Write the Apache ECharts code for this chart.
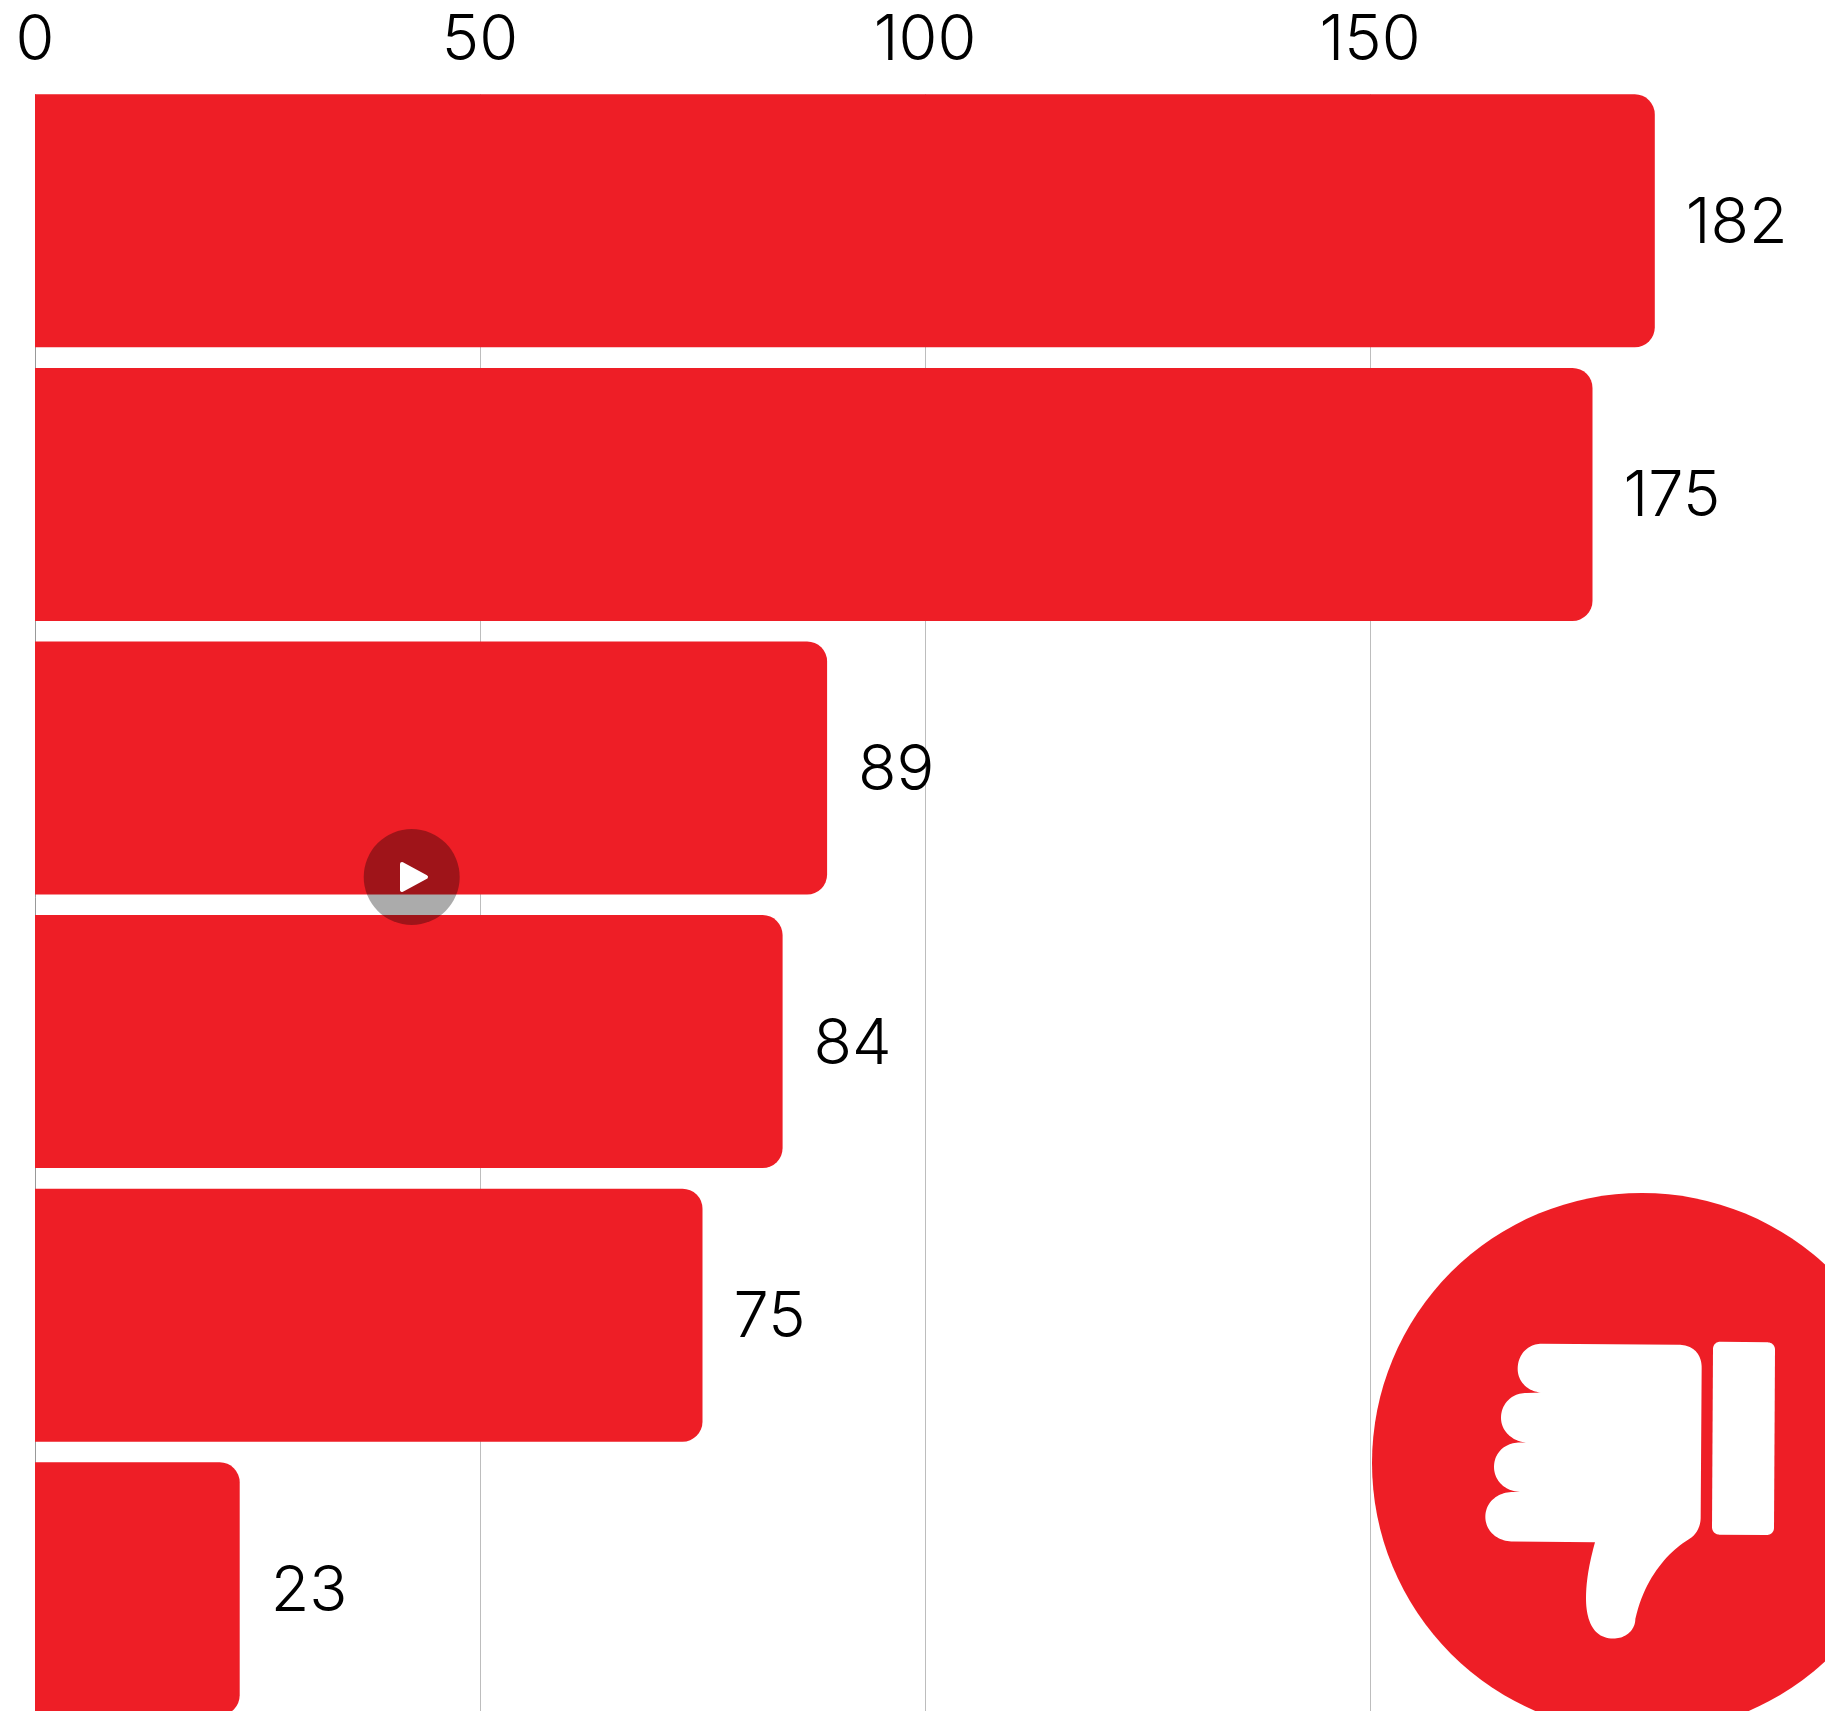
<!DOCTYPE html>
<html><head><meta charset="utf-8">
<style>html,body{margin:0;padding:0;background:#fff}#c{width:1825px;height:1711px}</style>
<script src="https://cdn.jsdelivr.net/npm/echarts@6/dist/echarts.min.js"></script>
</head><body><div id="c"></div>
<script>
const categories = ['A','B','C','D','E','F'];
const values = [182,175,89,84,75,23];
const tickStep = 50;
const axisMax = 200;
const RED = '#EE1E26';
const FONT = 'Inter';

// Icon outline helper: L = straight point, C = cubic curve to last point
function outline(start, segs){
  const pts=[start]; let p=start;
  segs.forEach(s=>{
    if(s.length===1){pts.push(s[0]);p=s[0];}
    else{
      const [a,b,c]=s;
      for(let i=1;i<=24;i++){const t=i/24,u=1-t;
        pts.push([u*u*u*p[0]+3*u*u*t*a[0]+3*u*t*t*b[0]+t*t*t*c[0],
                  u*u*u*p[1]+3*u*u*t*a[1]+3*u*t*t*b[1]+t*t*t*c[1]]);}
      p=c;
    }
  });
  return pts;
}
const handPts = outline([575,505],[
  [[985,508]],
  [[1030,508],[1055,535],[1055,575]],
  [[1052,1010]],
  [[1052,1035],[1040,1058],[1022,1070]],
  [[960,1105],[885,1180],[856,1305]],
  [[856,1335],[830,1362],[790,1362]],
  [[730,1362],[708,1310],[708,1245]],
  [[708,1190],[720,1135],[735,1082]],
  [[490,1080]],
  [[440,1080],[406,1048],[406,1008]],
  [[406,968],[440,936],[490,936]],
  [[510,936]],
  [[465,934],[432,903],[432,863]],
  [[432,822],[465,792],[510,792]],
  [[528,792]],
  [[488,789],[453,760],[453,720]],
  [[453,680],[485,648],[530,648]],
  [[575,647]],
  [[533,645],[503,615],[503,578]],
  [[503,535],[535,505],[575,505]]
]);
const paddlePts = outline([1112,499],[
  [[1252,501]],
  [[1266,501],[1275,510],[1275,523]],
  [[1272,1040]],
  [[1272,1052],[1263,1061],[1250,1061]],
  [[1108,1060]],
  [[1095,1060],[1086,1050],[1086,1038]],
  [[1089,521]],
  [[1089,508],[1098,499],[1112,499]]
]);
const white = {fill:'#fff'};

const chart = echarts.init(document.getElementById('c'), null, {renderer:'canvas'});
chart.setOption({
  animation:false,
  backgroundColor:'#fff',
  textStyle:{fontFamily:FONT},
  grid:{left:35,top:84,right:10,bottom:-14.6,containLabel:false,outerBoundsMode:'none'},
  xAxis:{type:'value',position:'top',min:0,max:axisMax,interval:tickStep,
    axisLine:{show:false},axisTick:{show:false},
    axisLabel:{show:true,showMaxLabel:false,margin:11,fontFamily:FONT,fontWeight:300,fontSize:63,color:'#000'},
    splitLine:{show:true,showMaxLine:false,showMinLine:false,lineStyle:{color:'#bdbdbd',width:1}}},
  yAxis:{type:'category',inverse:true,data:categories,
    axisLine:{show:true,lineStyle:{color:'#999',width:1}},axisTick:{show:false},axisLabel:{show:false}},
  series:[{type:'bar',data:values,barWidth:253,z:2,
    itemStyle:{color:RED,borderRadius:[0,20,20,0]},
    label:{show:true,position:'right',distance:31,offset:[0,3],fontFamily:FONT,fontWeight:300,fontSize:63,color:'#000'}}],
  graphic:{elements:[
    {type:'rect',shape:{x:20,y:70,width:1805,height:24.3},style:white,z:1,silent:true},
    {type:'circle',shape:{cx:1642,cy:1463,r:270},style:{fill:RED},z:10},
    {type:'group',x:1350,y:1170,scaleX:1/3,scaleY:0.344,children:[
      {type:'polygon',shape:{points:handPts},style:white,z:11},
      {type:'polygon',shape:{points:paddlePts},style:white,z:11}
    ]},
    {type:'circle',shape:{cx:411.7,cy:877,r:48},style:{fill:'rgba(0,0,0,0.33)'},z:10},
    {type:'polygon',shape:{points:[[402,864],[426,877],[402,890]]},style:{fill:'#fff',stroke:'#fff',lineWidth:4,lineJoin:'round'},z:11}
  ]}
});
</script></body></html>
